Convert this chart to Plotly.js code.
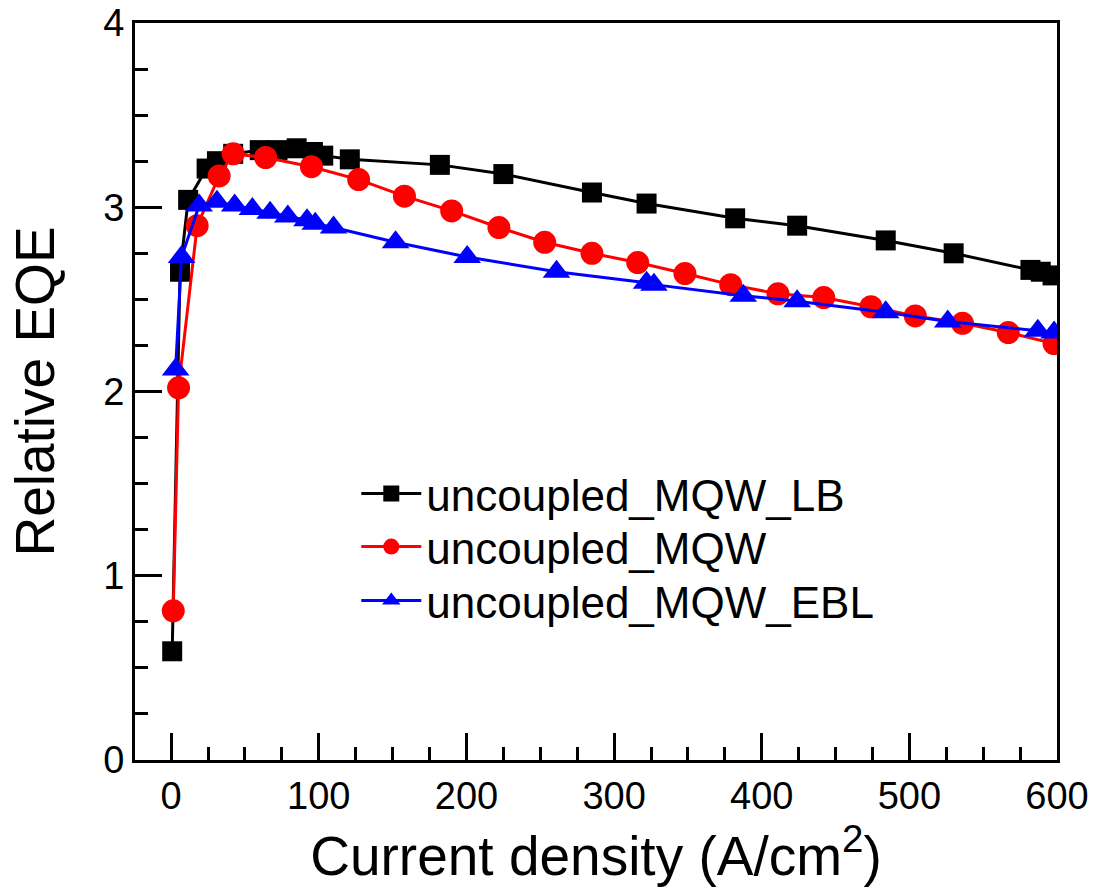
<!DOCTYPE html>
<html>
<head>
<meta charset="utf-8">
<script src="https://cdn.plot.ly/plotly-3.0.1.min.js"></script>
<style>html,body{margin:0;padding:0;background:#fff;}#chart{width:1094px;height:888px;}</style>
</head>
<body>
<div id="chart"></div>
<script>
const xLB = [0.7, 6, 11.5, 24, 31, 42, 60, 72, 85, 96, 103, 121, 182, 225, 285, 322, 382, 424, 484, 530, 582, 589, 597];
const yLB = [0.59, 2.65, 3.04, 3.21, 3.25, 3.29, 3.31, 3.31, 3.32, 3.30, 3.28, 3.26, 3.23, 3.18, 3.08, 3.02, 2.94, 2.90, 2.82, 2.75, 2.66, 2.65, 2.63];

const xMQW = [1.4, 5, 17.6, 32.5, 42, 64, 95, 127, 158, 190, 222, 253, 285, 316, 348, 379, 411, 442, 474, 504, 536, 567, 598];
const yMQW = [0.81, 2.02, 2.90, 3.17, 3.29, 3.27, 3.22, 3.15, 3.06, 2.98, 2.89, 2.81, 2.75, 2.70, 2.64, 2.58, 2.53, 2.51, 2.46, 2.41, 2.37, 2.32, 2.26];

const xEBL = [3, 7, 19, 31, 43, 55, 67, 79, 92, 97.6, 110, 152, 200.5, 261, 322, 327, 387.5, 424, 484, 526, 587, 598];
const yEBL = [2.12, 2.73, 3.01, 3.03, 3.01, 2.99, 2.97, 2.95, 2.93, 2.91, 2.89, 2.81, 2.73, 2.65, 2.59, 2.58, 2.52, 2.49, 2.43, 2.38, 2.33, 2.32];

const seriesNames = ["uncoupled_MQW_LB", "uncoupled_MQW", "uncoupled_MQW_EBL"];
const xTickVals = [0, 100, 200, 300, 400, 500, 600];
const yTickVals = [0, 1, 2, 3, 4];

const FONT = "Liberation Sans, Arial, sans-serif";

const traces = [
  {x: xLB, y: yLB, name: seriesNames[0], mode: "lines+markers", type: "scatter", legend: "legend",
   line: {color: "#000000", width: 3}, marker: {symbol: "square", size: 20, color: "#000000"}},
  {x: xMQW, y: yMQW, name: seriesNames[1], mode: "lines+markers", type: "scatter", legend: "legend2",
   line: {color: "#ff0000", width: 3}, marker: {symbol: "circle", size: 23, color: "#ff0000"}},
  {x: xEBL, y: yEBL, name: seriesNames[2], mode: "lines+markers", type: "scatter", legend: "legend3",
   line: {color: "#0000ff", width: 3}, marker: {symbol: "triangle-up", size: 24, color: "#0000ff"}}
];

function legendAt(yPaper) {
  return {x: 0.24, y: yPaper, xanchor: "left", yanchor: "middle",
          font: {family: FONT, size: 44, color: "#000"}, bgcolor: "rgba(0,0,0,0)",
          itemwidth: 60};
}

const layout = {
  width: 1094, height: 888,
  margin: {l: 135, r: 37, t: 23, b: 128, pad: 0},
  paper_bgcolor: "#ffffff", plot_bgcolor: "#ffffff",
  font: {family: FONT, color: "#000000"},
  showlegend: true,
  legend: legendAt((760 - 494) / 737),
  legend2: legendAt((760 - 547) / 737),
  legend3: legendAt((760 - 601) / 737),
  xaxis: {
    range: [-24.5, 600], tickvals: xTickVals, ticktext: xTickVals.map(String),
    ticks: "inside", ticklen: 27, tickwidth: 3, tickcolor: "#000",
    minor: {dtick: 25, tick0: 0, ticks: "inside", ticklen: 13, tickwidth: 3, tickcolor: "#000", showgrid: false},
    showline: true, linewidth: 3, linecolor: "#000", mirror: true,
    showgrid: false, zeroline: false,
    tickfont: {family: FONT, size: 38, color: "#000"},
    title: {text: "Current density (A/cm<sup>2</sup>)", font: {family: FONT, size: 55, color: "#000"}, standoff: 12}
  },
  yaxis: {
    range: [0, 4], tickvals: yTickVals, ticktext: yTickVals.map(String),
    ticks: "inside", ticklen: 27, tickwidth: 3, tickcolor: "#000",
    minor: {dtick: 0.25, tick0: 0, ticks: "inside", ticklen: 13, tickwidth: 3, tickcolor: "#000", showgrid: false},
    showline: true, linewidth: 3, linecolor: "#000", mirror: true,
    showgrid: false, zeroline: false,
    tickfont: {family: FONT, size: 38, color: "#000"},
    title: {text: "Relative EQE", font: {family: FONT, size: 55, color: "#000"}, standoff: 32}
  }
};

Plotly.newPlot("chart", traces, layout, {displayModeBar: false, staticPlot: true});
</script>
</body>
</html>
